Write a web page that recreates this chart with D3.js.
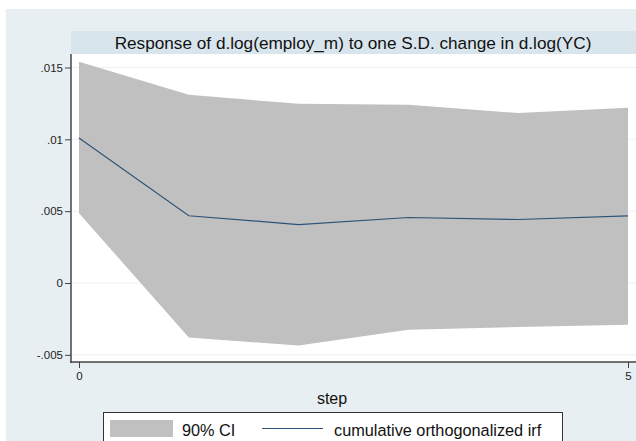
<!DOCTYPE html>
<html>
<head>
<meta charset="utf-8">
<script src="https://cdn.jsdelivr.net/npm/d3@7"></script>
<style>
html,body{margin:0;padding:0;background:#fff;}
svg{display:block;font-family:"Liberation Sans",Arial,Helvetica,sans-serif;}
</style>
</head>
<body>
<svg id="chart" width="636" height="441"></svg>
<script>
const steps = [0, 1, 2, 3, 4, 5];
const ciUpper = [0.0154, 0.0131, 0.01247, 0.0124, 0.01183, 0.0122];
const ciLower = [0.00486, -0.0038, -0.00435, -0.00326, -0.00306, -0.0029];
const irf = [0.0101, 0.00468, 0.00407, 0.00456, 0.00442, 0.00467];
const yTicks = [-0.005, 0, 0.005, 0.01, 0.015];
const yTickLabels = ["-.005", "0", ".005", ".01", ".015"];
const xTicks = [0, 5];
const titleText = "Response of d.log(employ_m) to one S.D. change in d.log(YC)";
const xTitle = "step";
const legendLabels = ["90% CI", "cumulative orthogonalized irf"];

const svg = d3.select("#chart");
// outer background
svg.append("rect").attr("x", 6).attr("y", 9).attr("width", 630).attr("height", 432).attr("fill", "#e8eff2");

const plot = {left: 71, right: 636, top: 54, bottom: 362};
// title band
svg.append("rect").attr("x", 71).attr("y", 31).attr("width", 565).attr("height", 23).attr("fill", "#d9e5ec");
svg.append("text").attr("x", 353).attr("y", 48.5).attr("text-anchor", "middle")
  .attr("font-size", 17.2).attr("fill", "#111").text(titleText);

// plot area
svg.append("rect").attr("x", plot.left).attr("y", plot.top).attr("width", plot.right - plot.left)
  .attr("height", plot.bottom - plot.top).attr("fill", "#ffffff");

const x = d3.scaleLinear().domain([0, 5]).range([79, 628]);
const y = d3.scaleLinear().domain([0, 0.015]).range([283, 67.5]);

// grid
svg.append("g").selectAll("line").data(yTicks).join("line")
  .attr("x1", plot.left).attr("x2", plot.right)
  .attr("y1", d => y(d)).attr("y2", d => y(d))
  .attr("stroke", "#eaf1f4").attr("stroke-width", 1);

// CI area
const area = d3.area().x((d, i) => x(steps[i])).y0((d, i) => y(ciLower[i])).y1((d, i) => y(ciUpper[i]));
svg.append("path").datum(steps).attr("d", area).attr("fill", "#c0c0c0");

// irf line
const line = d3.line().x((d, i) => x(steps[i])).y((d, i) => y(irf[i]));
svg.append("path").datum(steps).attr("d", line).attr("fill", "none")
  .attr("stroke", "#2d5478").attr("stroke-width", 1.2);

// y axis
const yAxis = d3.axisLeft(y).tickValues(yTicks).tickSize(6).tickPadding(2)
  .tickFormat((d, i) => yTickLabels[i]);
const gy = svg.append("g").attr("transform", `translate(${plot.left},0)`).call(yAxis);
gy.select(".domain").remove();
gy.append("line").attr("x1", 0).attr("x2", 0).attr("y1", plot.top).attr("y2", plot.bottom + 1)
  .attr("stroke", "#444").attr("stroke-width", 1.5);
gy.selectAll(".tick line").attr("stroke", "#444");
gy.selectAll(".tick text").attr("font-size", 11.5).attr("fill", "#222")
  .attr("font-family", "Liberation Sans, Arial, sans-serif");

// x axis
const xAxis = d3.axisBottom(x).tickValues(xTicks).tickSize(6).tickPadding(4).tickFormat(d3.format("d"));
const gx = svg.append("g").attr("transform", `translate(0,${plot.bottom})`).call(xAxis);
gx.select(".domain").remove();
gx.append("line").attr("x1", plot.left - 1).attr("x2", plot.right).attr("y1", 0).attr("y2", 0)
  .attr("stroke", "#444").attr("stroke-width", 1.5);
gx.selectAll(".tick line").attr("stroke", "#444");
gx.selectAll(".tick text").attr("font-size", 11.5).attr("fill", "#222")
  .attr("font-family", "Liberation Sans, Arial, sans-serif");

svg.append("text").attr("x", 332).attr("y", 404).attr("text-anchor", "middle")
  .attr("font-size", 16).attr("fill", "#111").text(xTitle);

// legend
svg.append("rect").attr("x", 103.5).attr("y", 412.5).attr("width", 459).attr("height", 40)
  .attr("fill", "#fff").attr("stroke", "#333").attr("stroke-width", 1);
svg.append("rect").attr("x", 110).attr("y", 420).attr("width", 63).attr("height", 17).attr("fill", "#c0c0c0");
svg.append("text").attr("x", 182).attr("y", 435.5).attr("font-size", 16.3).attr("fill", "#111").text(legendLabels[0]);
svg.append("line").attr("x1", 262).attr("x2", 323).attr("y1", 428.5).attr("y2", 428.5)
  .attr("stroke", "#2d5478").attr("stroke-width", 1.2);
svg.append("text").attr("x", 334).attr("y", 435.5).attr("font-size", 16.3).attr("fill", "#111").text(legendLabels[1]);
</script>
</body>
</html>
